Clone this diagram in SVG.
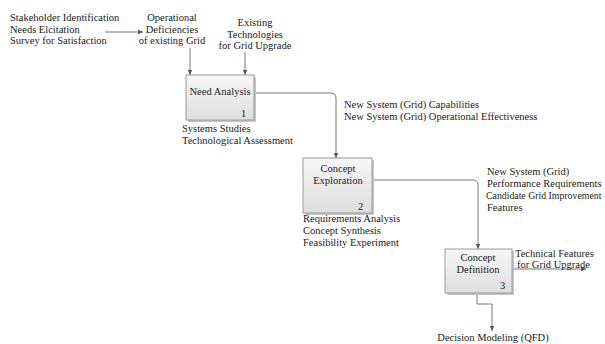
<svg xmlns="http://www.w3.org/2000/svg" width="605" height="344" viewBox="0 0 605 344">
<defs>
<linearGradient id="g" x1="0" y1="0" x2="0" y2="1">
<stop offset="0" stop-color="#f7f7f7"/>
<stop offset="1" stop-color="#dedede"/>
</linearGradient>
<marker id="ah" markerWidth="6" markerHeight="6" refX="5" refY="3" orient="auto" markerUnits="userSpaceOnUse">
<path d="M0,0.8 L5,3 L0,5.2 Z" fill="#555"/>
</marker>
</defs>
<style>
text{font-family:"Liberation Serif","Times New Roman",serif;font-size:10.5px;fill:#1a1a1a}
.c{text-anchor:middle}
.box{fill:url(#g);stroke:#9a9a9a;stroke-width:1}
.sh{fill:#c4c4c4}
.ln{fill:none;stroke:#777;stroke-width:1;marker-end:url(#ah)}
</style>
<rect width="605" height="344" fill="#fff"/>
<g id="connectors">
<path class="ln" d="M105,32 H143"/>
<path class="ln" d="M190,48 V75"/>
<path class="ln" d="M245,52 V75"/>
<path class="ln" d="M254,93 H331 Q336,93 336,98 V158"/>
<path class="ln" d="M372,180 H473 Q478,180 478,185 V249"/>
<path class="ln" d="M512,269 H586"/>
<path class="ln" d="M477,293 V304 H492 V331"/>
</g>
<g id="inputs">
<text x="10" y="21">Stakeholder Identification</text>
<text x="10" y="32.5">Needs Elcitation</text>
<text x="10" y="44">Survey for Satisfaction</text>
<text class="c" x="172" y="21">Operational</text>
<text class="c" x="172" y="32.5">Deficiencies</text>
<text class="c" x="172" y="44">of existing Grid</text>
<text class="c" x="255" y="26">Existing</text>
<text class="c" x="255" y="37.5">Technologies</text>
<text class="c" x="255" y="49">for Grid Upgrade</text>
</g>
<g id="node1">
<rect class="sh" x="188" y="77" width="68" height="45"/>
<rect class="box" x="186" y="75" width="68" height="45"/>
<text class="c" x="220" y="95">Need Analysis</text>
<text x="241" y="117">1</text>
</g>
<g id="node1-labels">
<text x="182" y="132">Systems Studies</text>
<text x="182" y="143.5">Technological Assessment</text>
<text x="344" y="108">New System (Grid) Capabilities</text>
<text x="344" y="119.5">New System (Grid) Operational Effectiveness</text>
</g>
<g id="node2">
<rect class="sh" x="305" y="160" width="69" height="55"/>
<rect class="box" x="303" y="158" width="69" height="55"/>
<text class="c" x="338" y="172">Concept</text>
<text class="c" x="338" y="184">Exploration</text>
<text x="358" y="210">2</text>
</g>
<g id="node2-labels">
<text x="487" y="175">New System (Grid)</text>
<text x="487" y="187">Performance Requirements</text>
<text x="486" y="199" style="font-size:9.8px">Candidate Grid Improvement</text>
<text x="487" y="211">Features</text>
<text x="303" y="222">Requirements Analysis</text>
<text x="303" y="234">Concept Synthesis</text>
<text x="303" y="246">Feasibility Experiment</text>
</g>
<g id="node3">
<rect class="sh" x="447" y="251" width="67" height="44"/>
<rect class="box" x="445" y="249" width="67" height="44"/>
<text class="c" x="478" y="261">Concept</text>
<text class="c" x="478" y="273">Definition</text>
<text x="500" y="289">3</text>
</g>
<g id="node3-labels">
<text x="515" y="257">Technical Features</text>
<text x="517" y="268">for Grid Upgrade</text>
<text class="c" x="493" y="341">Decision Modeling (QFD)</text>
</g>
</svg>
